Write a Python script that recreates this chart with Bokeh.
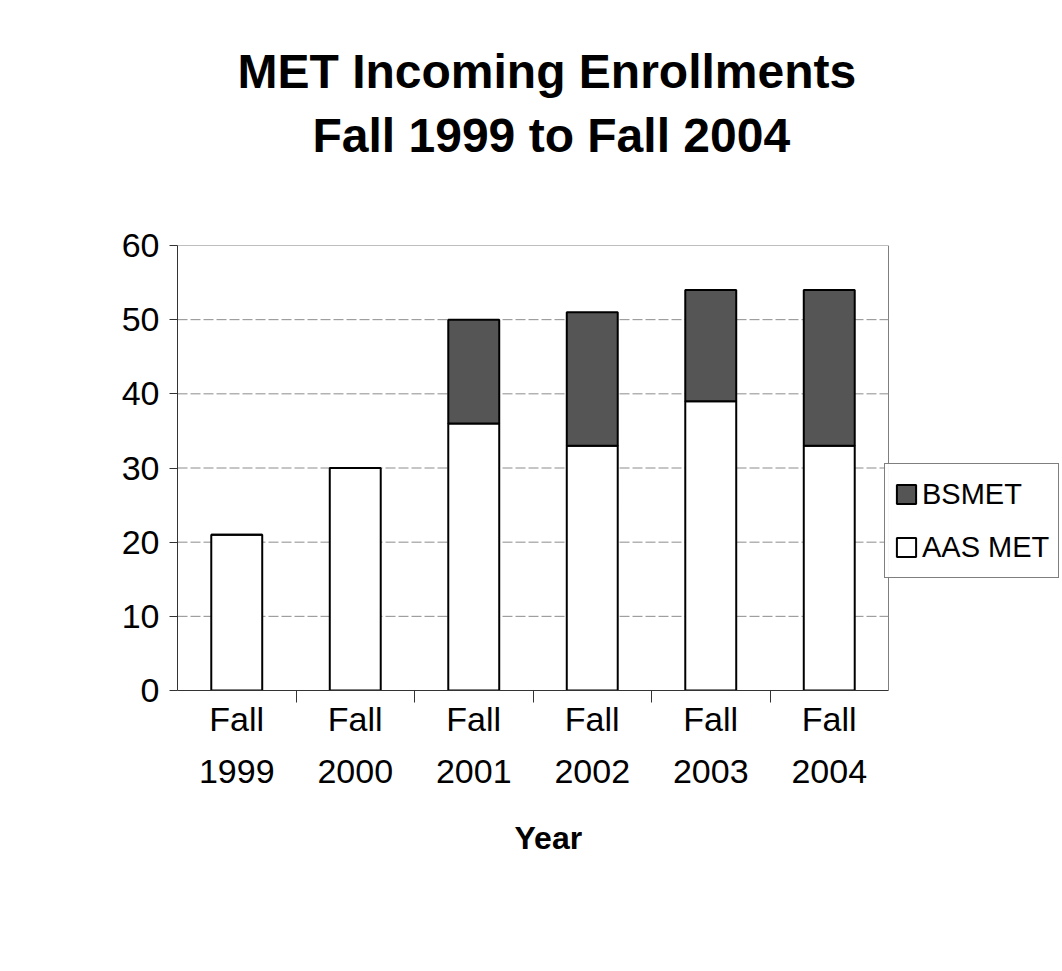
from bokeh.plotting import figure
from bokeh.models import (Range1d, FixedTicker, Legend, LegendItem, Title,
                          ColumnDataSource, Grid)
from bokeh.embed import file_html
from bokeh.resources import INLINE

categories = ["Fall\n1999", "Fall\n2000", "Fall\n2001", "Fall\n2002", "Fall\n2003", "Fall\n2004"]
aas_met = [21, 30, 36, 33, 39, 33]
bsmet = [0, 0, 14, 18, 15, 21]
y_ticks = [0, 10, 20, 30, 40, 50, 60]
title_line1 = "MET Incoming Enrollments"
title_line2 = "Fall 1999 to Fall 2004"
x_title = "Year"

FONT = "Liberation Sans"
W, H = 1062, 971
FRAME_L, FRAME_R = 177, 888
n = len(categories)
y_top = y_ticks[-1]
# the frame runs to the window edge so that the legend may sit over the plot's right border
x_max = n * (W - FRAME_L) / (FRAME_R - FRAME_L)

xs = [i + 0.5 for i in range(n)]
src = ColumnDataSource(dict(x=xs, aas=aas_met, bs=bsmet,
                            top2=[a + b for a, b in zip(aas_met, bsmet)]))

p = figure(width=W, height=H, output_backend="svg", toolbar_location=None,
           x_range=Range1d(0, x_max), y_range=Range1d(0, y_top),
           min_border_left=FRAME_L, min_border_right=0, min_border_top=245,
           min_border_bottom=281)
p.title = None
p.outline_line_color = None
p.xgrid.visible = False
p.ygrid.visible = False

# horizontal grid lines, limited to the plot area
inner = y_ticks[1:-1]
p.segment(x0=[0] * len(inner), x1=[n] * len(inner), y0=inner, y1=inner,
          line_color="#8c8c8c", line_dash="10 3", line_width=1)
# plot-area border: top and right
p.segment(x0=[0], x1=[n], y0=[y_top], y1=[y_top], line_color="#7f7f7f", line_width=1)
p.add_layout(Grid(dimension=0, ticker=FixedTicker(ticks=[n]),
                  grid_line_color="#7f7f7f", grid_line_width=1))

r_aas = p.vbar(x="x", top="aas", bottom=0, width=0.43, source=src,
               fill_color="white", line_color="black", line_width=2)
r_bs = p.vbar(x="x", top="top2", bottom="aas", width=0.43, source=src,
              fill_color="#555555", line_color="black", line_width=2)

# titles: spacer nearest the frame, then line 2, then line 1
spacer = Title(text=" ", text_font_size="1px", standoff=71)
t2 = Title(text=title_line2, align="left", offset=135, text_font=FONT,
           text_font_size="48px", text_font_style="bold", text_color="black",
           standoff=19)
t1 = Title(text=title_line1, align="left", offset=60, text_font=FONT,
           text_font_size="48px", text_font_style="bold", text_color="black",
           standoff=0)
p.add_layout(spacer, "above")
p.add_layout(t2, "above")
p.add_layout(t1, "above")

# y axis
p.yaxis.ticker = FixedTicker(ticks=y_ticks)
p.yaxis.major_label_text_font = FONT
p.yaxis.major_label_text_font_size = "34px"
p.yaxis.major_label_text_color = "black"
p.yaxis.major_tick_out = 8
p.yaxis.major_tick_in = 0
p.yaxis.minor_tick_line_color = None
p.yaxis.axis_line_color = "#333333"
p.yaxis.major_tick_line_color = "#333333"
p.yaxis.major_label_standoff = 10

# x axis
p.xaxis.bounds = (0, n)
p.xaxis.ticker = FixedTicker(ticks=xs, minor_ticks=list(range(1, n)))
p.xaxis.major_label_overrides = {x: c for x, c in zip(xs, categories)}
p.xaxis.major_label_text_font = FONT
p.xaxis.major_label_text_font_size = "34px"
p.xaxis.major_label_text_line_height = 1.37
p.xaxis.major_label_text_color = "black"
p.xaxis.major_tick_line_color = None
p.xaxis.minor_tick_out = 12
p.xaxis.minor_tick_in = 0
p.xaxis.minor_tick_line_color = "#333333"
p.xaxis.axis_line_color = "#333333"
p.xaxis.major_label_standoff = -3

# x-axis title, centred under the plot area (not under the extended frame)
yt = Title(text=x_title, align="left", offset=337, text_font=FONT,
           text_font_size="32px", text_font_style="bold", text_color="black",
           vertical_align="top", standoff=54)
p.add_layout(yt, "below")

legend = Legend(items=[LegendItem(label="BSMET", renderers=[r_bs]),
                       LegendItem(label="AAS MET", renderers=[r_aas])],
                location=(707, 112))
legend.label_text_font = FONT
legend.label_text_font_size = "29px"
legend.label_text_color = "black"
legend.glyph_width = 24
legend.glyph_height = 24
legend.label_height = 42
legend.spacing = 11
legend.padding = 9
legend.margin = 0
legend.border_line_color = "black"
legend.border_line_width = 1
legend.label_standoff = 4
p.add_layout(legend, "center")

open("out.html", "w").write(file_html(p, INLINE))
